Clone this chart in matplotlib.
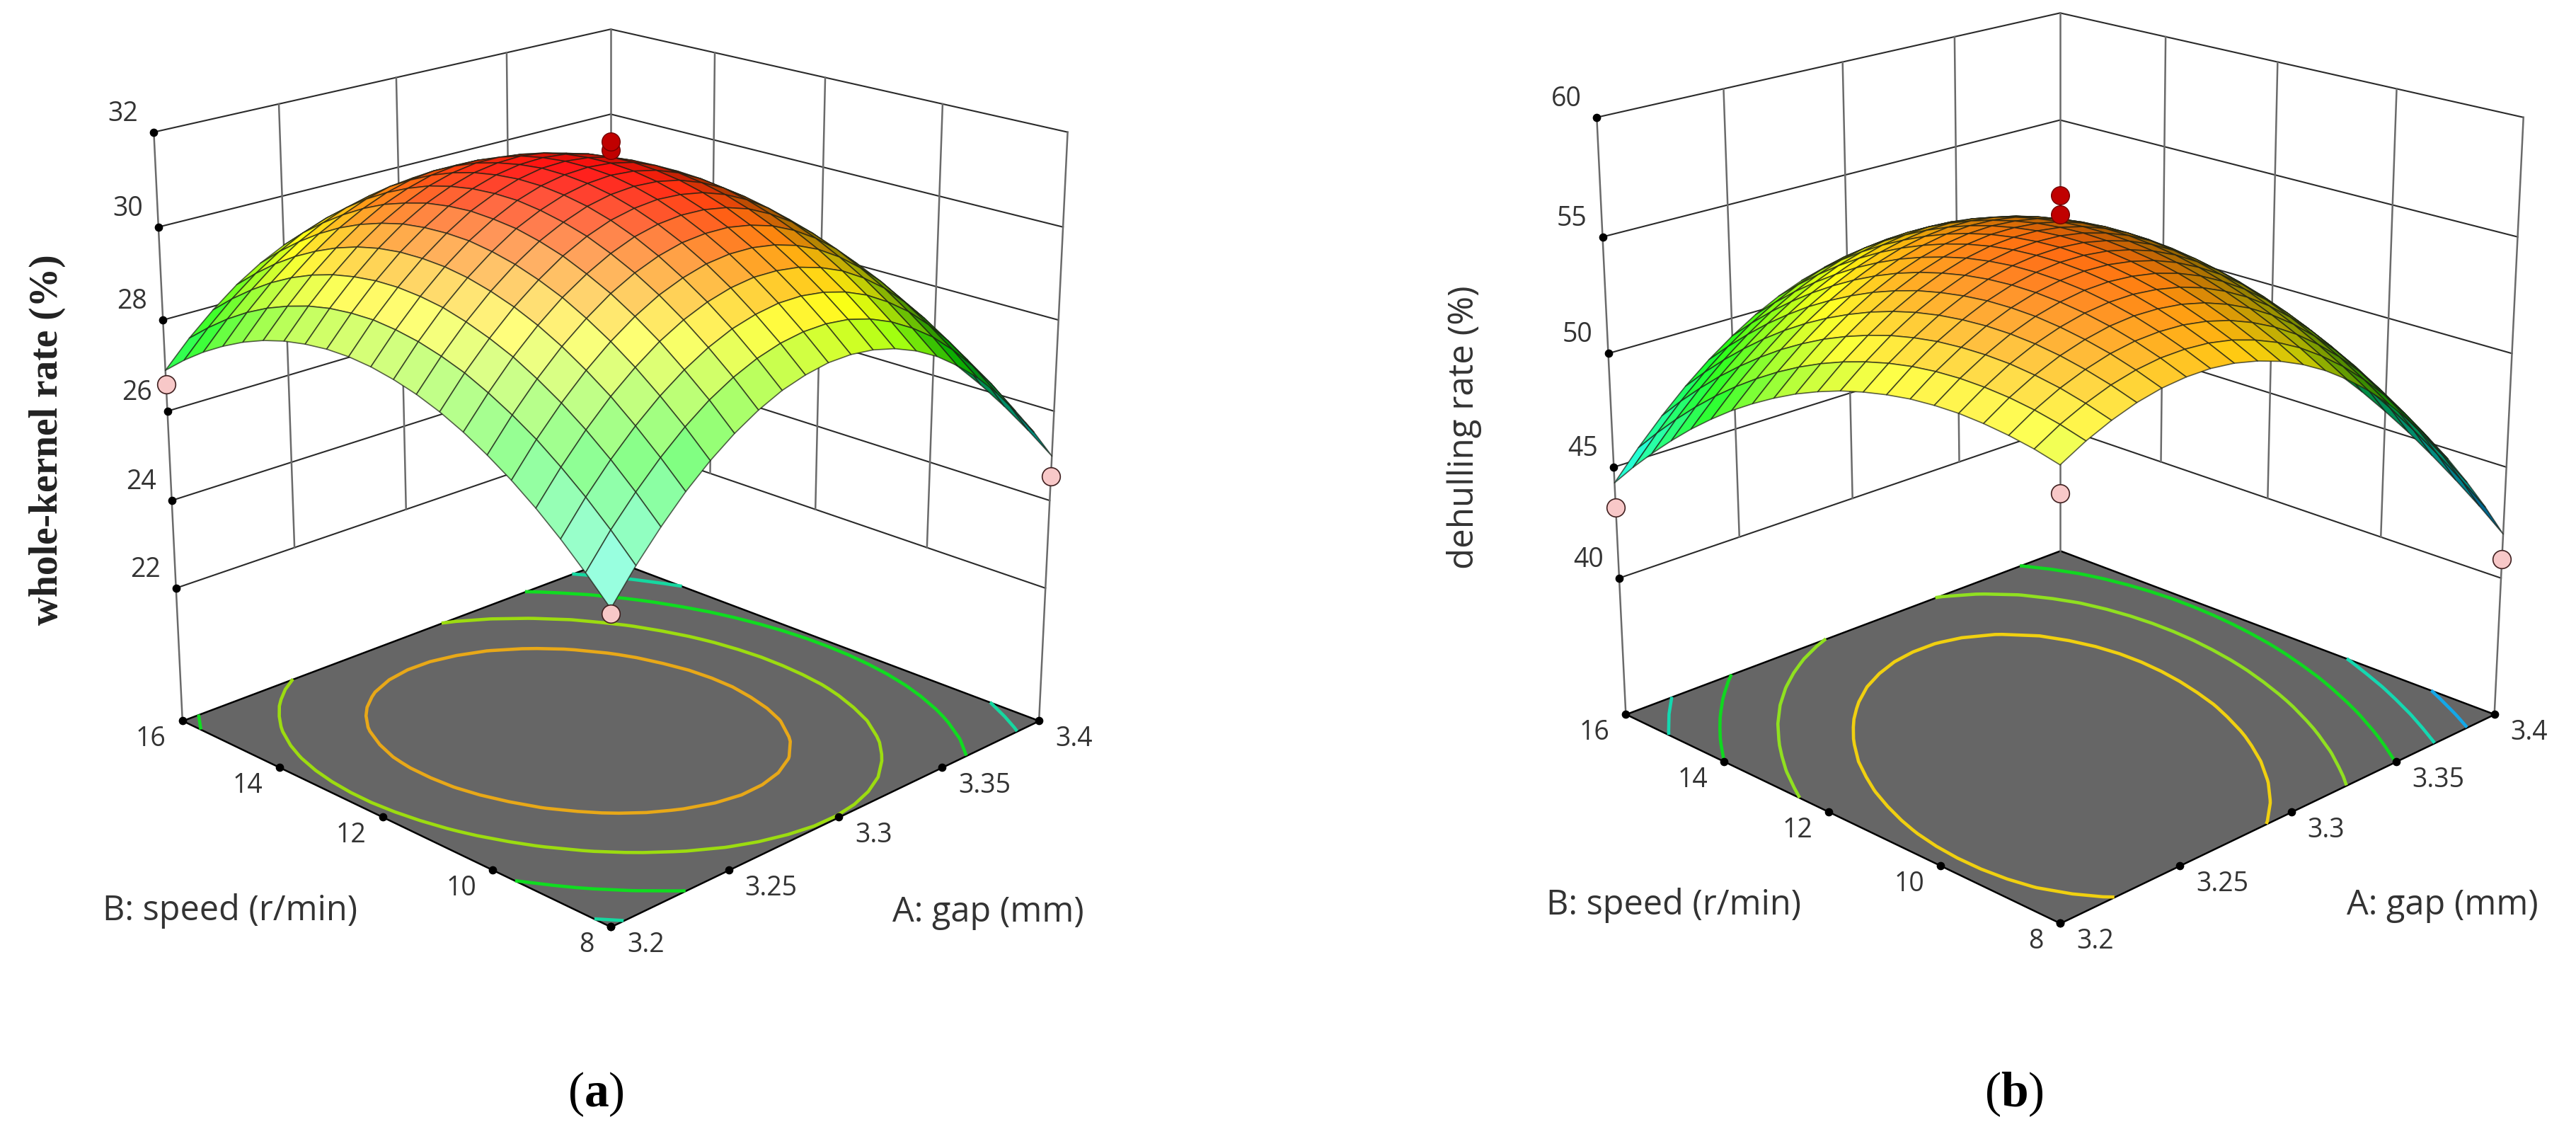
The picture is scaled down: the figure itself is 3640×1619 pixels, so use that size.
import numpy as np
import matplotlib
matplotlib.use('Agg')
import matplotlib.pyplot as plt
from matplotlib.colors import LinearSegmentedColormap
from mpl_toolkits.mplot3d import proj3d
from mpl_toolkits.mplot3d.art3d import Poly3DCollection

W, H = 3640, 1619

# Data: rows follow gap (3.2 .. 3.4), columns follow speed (8 .. 16)
gap = [3.2, 3.21, 3.22, 3.23, 3.24, 3.25, 3.26, 3.27, 3.28, 3.29, 3.3, 3.31, 3.32, 3.33, 3.34, 3.35, 3.36, 3.37, 3.38, 3.39, 3.4]
speed = [8, 8.4, 8.8, 9.2, 9.6, 10, 10.4, 10.8, 11.2, 11.6, 12, 12.4, 12.8, 13.2, 13.6, 14, 14.4, 14.8, 15.2, 15.6, 16]
gap_ticks = [3.2, 3.25, 3.3, 3.35, 3.4]
speed_ticks = [8, 10, 12, 14, 16]

whole_kernel = np.array([
    [25.45,25.97,26.45,26.88,27.26,27.59,27.88,28.12,28.31,28.45,28.55,28.60,28.60,28.55,28.46,28.32,28.13,27.89,27.61,27.28,26.90],
    [26.11,26.63,27.10,27.52,27.90,28.22,28.50,28.74,28.92,29.06,29.15,29.20,29.19,29.14,29.04,28.89,28.70,28.46,28.17,27.83,27.45],
    [26.69,27.20,27.67,28.09,28.46,28.78,29.06,29.28,29.46,29.60,29.68,29.72,29.71,29.65,29.55,29.40,29.20,28.95,28.65,28.31,27.92],
    [27.21,27.71,28.17,28.59,28.95,29.27,29.54,29.76,29.93,30.06,30.14,30.17,30.16,30.10,29.99,29.83,29.62,29.37,29.07,28.72,28.33],
    [27.65,28.15,28.60,29.01,29.37,29.68,29.95,30.16,30.33,30.45,30.53,30.55,30.53,30.47,30.35,30.19,29.98,29.72,29.41,29.06,28.66],
    [28.02,28.52,28.96,29.37,29.72,30.03,30.28,30.50,30.66,30.78,30.84,30.87,30.84,30.77,30.64,30.48,30.26,29.99,29.68,29.33,28.92],
    [28.32,28.81,29.25,29.65,30.00,30.30,30.55,30.76,30.91,31.02,31.09,31.10,31.07,30.99,30.87,30.69,30.47,30.20,29.88,29.52,29.11],
    [28.55,29.03,29.47,29.86,30.20,30.50,30.75,30.95,31.10,31.20,31.26,31.27,31.23,31.15,31.02,30.84,30.61,30.34,30.01,29.64,29.23],
    [28.70,29.18,29.61,30.00,30.34,30.63,30.87,31.06,31.21,31.31,31.36,31.37,31.32,31.23,31.10,30.91,30.68,30.40,30.07,29.69,29.27],
    [28.79,29.26,29.69,30.07,30.40,30.68,30.92,31.11,31.25,31.35,31.39,31.39,31.34,31.25,31.10,30.91,30.68,30.39,30.06,29.68,29.25],
    [28.80,29.27,29.69,30.06,30.39,30.67,30.90,31.08,31.22,31.31,31.35,31.34,31.29,31.19,31.04,30.84,30.60,30.31,29.97,29.58,29.15],
    [28.74,29.21,29.62,29.99,30.31,30.58,30.81,30.99,31.12,31.20,31.24,31.23,31.17,31.06,30.91,30.70,30.45,30.16,29.81,29.42,28.98],
    [28.61,29.07,29.48,29.84,30.16,30.43,30.65,30.82,30.94,31.02,31.05,31.03,30.97,30.86,30.70,30.49,30.24,29.93,29.58,29.19,28.74],
    [28.41,28.86,29.27,29.63,29.94,30.20,30.41,30.58,30.70,30.77,30.80,30.77,30.70,30.59,30.42,30.21,29.95,29.64,29.28,28.88,28.43],
    [28.14,28.58,28.98,29.34,29.64,29.90,30.11,30.27,30.38,30.45,30.47,30.44,30.36,30.24,30.07,29.85,29.59,29.27,28.91,28.50,28.05],
    [27.79,28.24,28.63,28.98,29.27,29.53,29.73,29.89,29.99,30.06,30.07,30.04,29.95,29.83,29.65,29.43,29.15,28.84,28.47,28.06,27.59],
    [27.38,27.81,28.20,28.54,28.84,29.08,29.28,29.43,29.53,29.59,29.60,29.56,29.47,29.34,29.16,28.93,28.65,28.33,27.95,27.53,27.07],
    [26.89,27.32,27.70,28.04,28.33,28.57,28.76,28.91,29.00,29.05,29.06,29.01,28.92,28.78,28.59,28.36,28.08,27.75,27.37,26.94,26.47],
    [26.33,26.76,27.13,27.46,27.75,27.98,28.17,28.31,28.40,28.44,28.44,28.39,28.29,28.15,27.96,27.72,27.43,27.09,26.71,26.28,25.80],
    [25.70,26.12,26.49,26.82,27.09,27.32,27.51,27.64,27.73,27.77,27.76,27.70,27.60,27.45,27.25,27.00,26.71,26.37,25.98,25.55,25.06],
    [25.00,25.41,25.78,26.10,26.37,26.59,26.77,26.90,26.98,27.01,27.00,26.94,26.83,26.67,26.47,26.22,25.92,25.57,25.18,24.74,24.25],
])

dehulling = np.array([
    [52.10,52.36,52.54,52.66,52.72,52.70,52.62,52.46,52.24,51.96,51.60,51.18,50.68,50.12,49.50,48.80,48.04,47.20,46.30,45.34,44.30],
    [52.67,52.96,53.18,53.33,53.41,53.43,53.38,53.26,53.07,52.81,52.49,52.10,51.64,51.11,50.51,49.85,49.12,48.32,47.45,46.51,45.51],
    [53.12,53.44,53.70,53.88,54.00,54.04,54.02,53.94,53.78,53.56,53.26,52.90,52.48,51.98,51.42,50.78,50.08,49.32,48.48,47.58,46.60],
    [53.47,53.82,54.10,54.32,54.47,54.55,54.56,54.50,54.38,54.19,53.93,53.60,53.20,52.74,52.21,51.61,50.94,50.20,49.40,48.53,47.59],
    [53.70,54.08,54.40,54.64,54.82,54.94,54.98,54.96,54.86,54.70,54.48,54.18,53.82,53.38,52.88,52.32,51.68,50.98,50.20,49.36,48.46],
    [53.81,54.23,54.58,54.86,55.07,55.21,55.29,55.30,55.24,55.11,54.91,54.65,54.32,53.92,53.45,52.91,52.31,51.64,50.90,50.09,49.21],
    [53.82,54.26,54.64,54.96,55.20,55.38,55.48,55.52,55.50,55.40,55.24,55.00,54.70,54.34,53.90,53.40,52.82,52.18,51.48,50.70,49.86],
    [53.71,54.19,54.60,54.94,55.22,55.43,55.57,55.64,55.64,55.58,55.45,55.25,54.98,54.64,54.24,53.77,53.23,52.62,51.94,51.20,50.39],
    [53.48,54.00,54.44,54.82,55.12,55.36,55.54,55.64,55.68,55.64,55.54,55.38,55.14,54.84,54.46,54.02,53.52,52.94,52.30,51.58,50.80],
    [53.15,53.69,54.17,54.58,54.92,55.19,55.39,55.53,55.60,55.60,55.53,55.39,55.19,54.92,54.58,54.17,53.69,53.15,52.54,51.86,51.11],
    [52.70,53.28,53.78,54.22,54.60,54.90,55.14,55.30,55.40,55.44,55.40,55.30,55.12,54.88,54.58,54.20,53.76,53.24,52.66,52.02,51.30],
    [52.14,52.75,53.29,53.76,54.16,54.50,54.77,54.97,55.10,55.16,55.16,55.09,54.95,54.74,54.46,54.12,53.71,53.23,52.68,52.06,51.38],
    [51.46,52.10,52.68,53.18,53.62,53.98,54.28,54.52,54.68,54.78,54.80,54.76,54.66,54.48,54.24,53.92,53.54,53.10,52.58,52.00,51.34],
    [50.68,51.35,51.95,52.49,52.96,53.36,53.69,53.95,54.15,54.28,54.34,54.33,54.25,54.11,53.90,53.62,53.27,52.85,52.37,51.82,51.20],
    [49.78,50.48,51.12,51.68,52.18,52.62,52.98,53.28,53.50,53.66,53.76,53.78,53.74,53.62,53.44,53.20,52.88,52.50,52.04,51.52,50.94],
    [48.76,49.50,50.17,50.77,51.30,51.76,52.16,52.49,52.75,52.94,53.06,53.12,53.11,53.03,52.88,52.66,52.38,52.03,51.61,51.12,50.56],
    [47.64,48.40,49.10,49.74,50.30,50.80,51.22,51.58,51.88,52.10,52.26,52.34,52.36,52.32,52.20,52.02,51.76,51.44,51.06,50.60,50.08],
    [46.40,47.20,47.93,48.59,49.19,49.72,50.18,50.57,50.89,51.15,51.34,51.46,51.51,51.49,51.41,51.26,51.04,50.75,50.39,49.97,49.48],
    [45.04,45.88,46.64,47.34,47.96,48.52,49.02,49.44,49.80,50.08,50.30,50.46,50.54,50.56,50.50,50.38,50.20,49.94,49.62,49.22,48.76],
    [43.58,44.44,45.24,45.97,46.63,47.22,47.74,48.20,48.59,48.91,49.16,49.34,49.46,49.51,49.49,49.40,49.24,49.02,48.73,48.37,47.94],
    [42.00,42.90,43.72,44.48,45.18,45.80,46.36,46.84,47.26,47.62,47.90,48.12,48.26,48.34,48.36,48.30,48.18,47.98,47.72,47.40,47.00],
])

# design points at the corners (last one sits behind the surface) and centre replicates
corner_gap = [3.2, 3.4, 3.2, 3.4]
corner_speed = [16, 8, 8, 16]
corners_a = [26.6, 24.55, 25.35, 24.1]
corners_b = [43.2, 40.85, 51.0, 46.5]
centre_a = [31.63, 31.8]
centre_b = [55.95, 56.75]

plt.rcParams['font.family'] = ['Open Sans', 'DejaVu Sans']
plt.rcParams['mathtext.fontset'] = 'custom'
plt.rcParams['mathtext.rm'] = 'Liberation Serif'
plt.rcParams['mathtext.bf'] = 'Liberation Serif:bold'

fig = plt.figure(figsize=(W/100, H/100), dpi=100)
ELEV, FL = 19.95, 0.58


def panel(rect, Z, zticks, zfloor, ztop, levels, lev_colors, nodes, corner_z, centre_z):
    x0, y0, S = rect
    ax = fig.add_axes([x0/W, y0/H, S/W, S/H], projection='3d', computed_zorder=False)
    ax.set_proj_type('persp', focal_length=FL)
    ax.view_init(elev=ELEV, azim=-135)
    ax.set_box_aspect((1, 1, 1))
    ax.set_xlim(3.2, 3.4)
    ax.set_ylim(8, 16)
    ax.set_zlim(zfloor, ztop)
    ax.set_axis_off()
    ax.patch.set_alpha(0)

    def to2d(x, y, z):
        X, Y, _ = proj3d.proj_transform(x, y, z, ax.get_proj())
        return X, Y

    # Floor with contours
    floor = [(3.2, 8, zfloor), (3.4, 8, zfloor), (3.4, 16, zfloor), (3.2, 16, zfloor)]
    ax.add_collection3d(Poly3DCollection([floor], facecolor='#666666', edgecolor='black', linewidth=1.8, zorder=1))
    ax.contour(gap, speed, Z.T, levels=levels, colors=lev_colors, linewidths=3.3, zdir='z', offset=zfloor, zorder=2)

    # Back walls
    for z in zticks:
        ax.plot([3.2, 3.4, 3.4], [16, 16, 8], [z, z, z], color='#2a2a2a', lw=1.5, zorder=3)
    for x in gap_ticks[:-1]:
        z0 = zfloor if x == 3.2 else zticks[0]
        ax.plot([x, x], [16, 16], [z0, ztop], color='#6a6a6a', lw=1.8, zorder=3)
    for y in speed_ticks[:-1]:
        z0 = zfloor if y == 8 else zticks[0]
        ax.plot([3.4, 3.4], [y, y], [z0, ztop], color='#6a6a6a', lw=1.8, zorder=3)
    ax.plot([3.4, 3.4], [16, 16], [zfloor, ztop], color='#6a6a6a', lw=1.8, zorder=3)

    # Surface colours: height colormap, lit from the camera side
    cmap = LinearSegmentedColormap.from_list('de', [((v-nodes[0][0])/(nodes[-1][0]-nodes[0][0]), c) for v, c in nodes])
    zz = (Z-zfloor)/(ztop-zfloor)*2
    du = np.diff(zz, axis=0)[:, :-1]/0.1
    dv = np.diff(zz, axis=1)[:-1, :]/0.1
    n = np.dstack([-du, -dv, np.ones_like(du)])
    n /= np.linalg.norm(n, axis=2, keepdims=True)
    e = np.radians(ELEV)
    L = np.array([-np.cos(e)*0.707-0.2, -np.cos(e)*0.707+0.2, np.sin(e)])
    L /= np.linalg.norm(L)
    d = np.clip(n@L, 0, 1)[..., None]
    zc = (Z[:-1, :-1]+Z[1:, :-1]+Z[:-1, 1:]+Z[1:, 1:])/4
    base = cmap((zc-nodes[0][0])/(nodes[-1][0]-nodes[0][0]))[..., :3]
    lit = base*np.clip(0.55+1.5*d, 0, 1)
    col = lit + (1-lit)*0.68*d**2

    pink = dict(s=340, c='#f8c8c8', edgecolors='#402020', linewidths=1.2, depthshade=False)
    ax.scatter(corner_gap[-1:], corner_speed[-1:], corner_z[-1:], zorder=4, **pink)
    X, Y = np.meshgrid(gap, speed, indexing='ij')
    ax.plot_surface(X, Y, Z, facecolors=col, rstride=1, cstride=1, shade=False,
                    edgecolor=(0.1, 0.12, 0.08, 0.7), linewidth=1.2, antialiased=True, zorder=5)
    ax.scatter(corner_gap[:-1], corner_speed[:-1], corner_z[:-1], zorder=6, **pink)
    ax.scatter([3.3]*len(centre_z), [12]*len(centre_z), centre_z, s=340, c='#c00000', edgecolors='#700000',
               linewidths=1.0, depthshade=False, zorder=6)

    # Tick dots and labels
    ax.scatter([3.2]*len(zticks), [16]*len(zticks), zticks, s=55, c='black', depthshade=False, zorder=7)
    ax.scatter(gap_ticks, [8]*5, [zfloor]*5, s=55, c='black', depthshade=False, zorder=7)
    ax.scatter([3.2]*5, speed_ticks, [zfloor]*5, s=55, c='black', depthshade=False, zorder=7)
    kw = dict(textcoords='offset pixels', va='center', fontsize=27, color='#333333')
    for z in zticks:
        ax.annotate(str(z), to2d(3.2, 16, z), xytext=(-22, 26), ha='right', **kw)
    for x in gap_ticks:
        ax.annotate(str(x), to2d(x, 8, zfloor), xytext=(23, -26), ha='left', **kw)
    for y in speed_ticks:
        ax.annotate(str(y), to2d(3.2, y, zfloor), xytext=(-23, -26), ha='right', **kw)
    return ax


panel((100.1, 240.3, 1485.6), whole_kernel, [22, 24, 26, 28, 30, 32], 18.9, 32,
      [24.32, 25.8, 27.27, 28.85, 30.13], ['#14a9d8', '#16d8a0', '#10dc20', '#9cdc10', '#e8a818'],
      [(24.25, (0, .45, 1)), (25.3, (0, 1, 1)), (27.7, (0, 1, 0)), (29.4, (1, 1, 0)), (31.4, (1, 0, 0))],
      corners_a, centre_a)
panel((2137.4, 244.4, 1506.5), dehulling, [40, 45, 50, 55, 60], 33.7, 60,
      [44.2, 46.5, 48.8, 51.0, 53.2], ['#14a8e8', '#14d8b0', '#10d820', '#90e020', '#f0d010'],
      [(42, (0, .45, 1)), (44.5, (0, 1, 1)), (49, (0, 1, 0)), (52.8, (1, 1, 0)), (57.5, (1, 0, 0))],
      corners_b, centre_b)

# Axis titles and captions
for x, y, s in [(325, 1287, 'B: speed (r/min)'), (1396, 1289, 'A: gap (mm)'),
                (2365, 1279, 'B: speed (r/min)'), (3451, 1279, 'A: gap (mm)')]:
    fig.text(x/W, 1-y/H, s, fontsize=35, ha='center', va='center', color='#333333')
fig.text(67/W, 1-621/H, 'whole-kernel rate (%)', fontsize=40, rotation=90, ha='center', va='center',
         family='Liberation Serif', weight='bold', color='#222222')
fig.text(2069/W, 1-604/H, 'dehulling rate (%)', fontsize=35.5, rotation=90, ha='center', va='center', color='#333333')
fig.text(842/W, 1-1545/H, r'$\mathrm{(}\mathbf{a}\mathrm{)}$', fontsize=50, ha='center', va='center', color='black')
fig.text(2846/W, 1-1545/H, r'$\mathrm{(}\mathbf{b}\mathrm{)}$', fontsize=50, ha='center', va='center', color='black')

fig.savefig('out.png', dpi=100)
